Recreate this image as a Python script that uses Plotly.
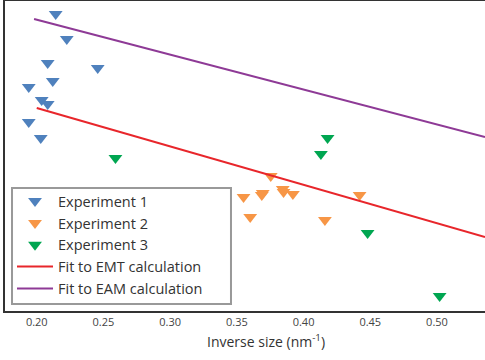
import plotly.graph_objects as go

# Experiment data (inverse size in nm^-1, arbitrary energy units)
exp1_x = [0.2142, 0.2225, 0.2082, 0.2457, 0.2120, 0.1940, 0.2037, 0.2082, 0.1940, 0.2030]
exp1_y = [2.97, 2.72, 2.48, 2.43, 2.30, 2.24, 2.11, 2.07, 1.89, 1.73]

exp2_x = [0.3754, 0.3550, 0.3694, 0.3687, 0.3844, 0.3850, 0.3920, 0.4420, 0.3600, 0.4160]
exp2_y = [1.35, 1.14, 1.18, 1.16, 1.22, 1.19, 1.17, 1.16, 0.94, 0.91]

exp3_x = [0.259, 0.418, 0.413, 0.448, 0.502]
exp3_y = [1.53, 1.73, 1.57, 0.78, 0.15]

emt_x = [0.200, 0.536]
emt_y = [2.03, 0.74]

eam_x = [0.198, 0.536]
eam_y = [2.92, 1.74]

x_ticks = [0.20, 0.25, 0.30, 0.35, 0.40, 0.45, 0.50]
x_tick_labels = ["0.20", "0.25", "0.30", "0.35", "0.40", "0.45", "0.50"]

BLUE = "#4f81bd"
ORANGE = "#f79646"
GREEN = "#00a651"
RED = "#e8262b"
PURPLE = "#8e3a96"

fig = go.Figure()
marker_common = dict(symbol="triangle-down", size=12)
fig.add_trace(go.Scatter(x=exp1_x, y=exp1_y, mode="markers", name="Experiment 1",
                         marker=dict(color=BLUE, **marker_common)))
fig.add_trace(go.Scatter(x=exp2_x, y=exp2_y, mode="markers", name="Experiment 2",
                         marker=dict(color=ORANGE, **marker_common)))
fig.add_trace(go.Scatter(x=exp3_x, y=exp3_y, mode="markers", name="Experiment 3",
                         marker=dict(color=GREEN, **marker_common)))
fig.add_trace(go.Scatter(x=emt_x, y=emt_y, mode="lines", name="Fit to EMT calculation",
                         line=dict(color=RED, width=2)))
fig.add_trace(go.Scatter(x=eam_x, y=eam_y, mode="lines", name="Fit to EAM calculation",
                         line=dict(color=PURPLE, width=2)))

fig.update_layout(
    width=485, height=360,
    margin=dict(l=5, r=0, t=1, b=49),
    paper_bgcolor="white", plot_bgcolor="white",
    font=dict(family="Open Sans", size=14, color="#333"),
    showlegend=True,
    legend=dict(x=0.0146, y=0.406, xanchor="left", yanchor="top",
                bgcolor="rgba(0,0,0,0)", borderwidth=0,
                itemwidth=36,
                font=dict(family="Open Sans", size=14.5, color="#333")),
    shapes=[dict(type="rect", xref="paper", yref="paper",
                 x0=0.0146, x1=0.4708, y0=0.0226, y1=0.3968,
                 line=dict(color="#999", width=2), fillcolor="white", layer="above")],
    xaxis=dict(range=[0.1762, 0.5360], tickvals=x_ticks, ticktext=x_tick_labels,
               showgrid=False, zeroline=False, showline=True, linecolor="#333",
               linewidth=2, mirror=True, ticks="",
               tickfont=dict(family="Open Sans", size=11, color="#444")),
    yaxis=dict(range=[0, 3.1], showgrid=False, zeroline=False, showline=True,
               linecolor="#333", linewidth=2, showticklabels=False, ticks=""),
    annotations=[dict(text="Inverse size (nm<sup>-1</sup>)", xref="paper", yref="paper",
                      x=0.544, y=-0.058, xanchor="center", yanchor="top", showarrow=False,
                      font=dict(family="Open Sans", size=14, color="#333"))],
)

fig.write_html("out.html", config={"displayModeBar": False},
               post_script="document.body.style.margin='0';document.body.style.overflow='hidden';")
